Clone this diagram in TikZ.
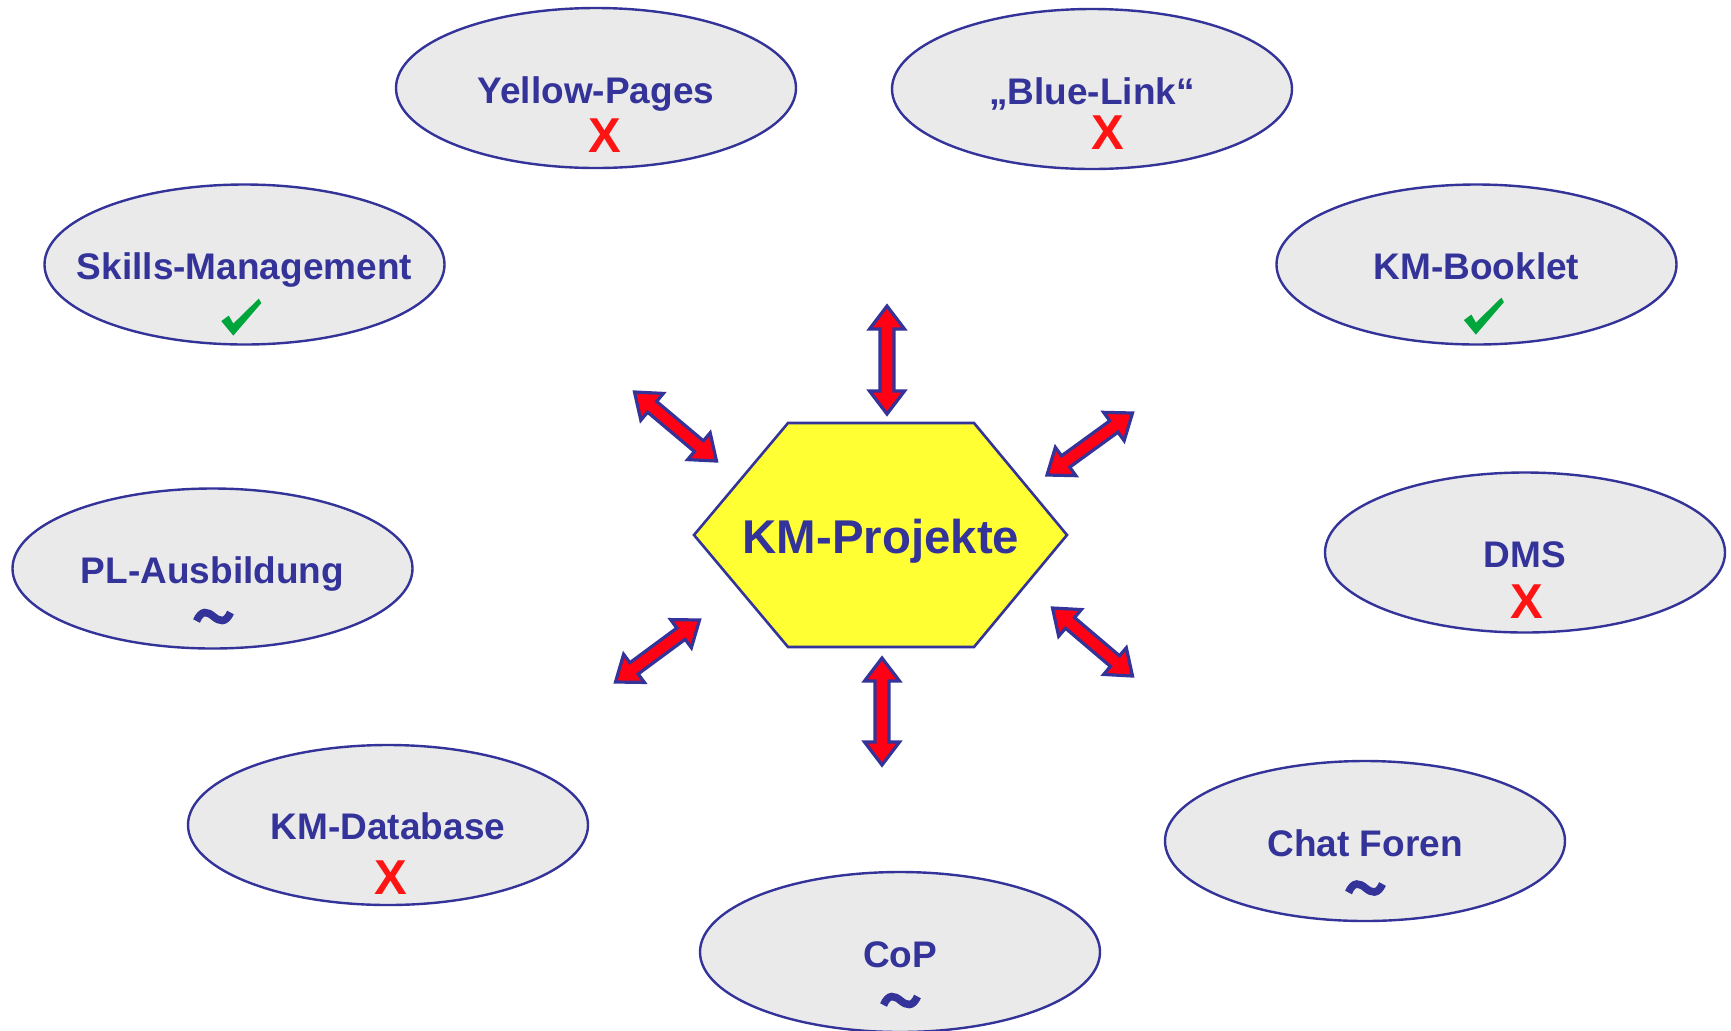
\documentclass[tikz,border=0pt]{standalone}
\usepackage{fontspec}
\setmainfont{Liberation Sans}
\usetikzlibrary{calc,shapes.geometric}
\definecolor{kmblue}{RGB}{51,51,153}
\definecolor{ellfill}{RGB}{234,234,234}
\definecolor{hexyellow}{RGB}{255,255,51}
\definecolor{arrred}{RGB}{255,0,20}
\definecolor{xred}{RGB}{255,20,20}
\definecolor{chkgreen}{RGB}{0,166,60}
\tikzset{
  topic/.style={ellipse, draw=kmblue, line width=1.2pt, fill=ellfill, minimum width=200pt, minimum height=80pt, inner sep=0pt},
  title/.style={font=\fontsize{18.5}{22}\selectfont\bfseries, text=kmblue, inner sep=0pt, anchor=base},
  xmark/.style={font=\fontsize{24.5}{28}\selectfont\bfseries, text=xred, inner sep=0pt},
  arr/.style={draw=kmblue, fill=arrred, line width=1.6pt, line join=miter},
  tildeline/.style={draw=kmblue, line width=3.8pt},
}
\newcommand\dblarr[3]{%
  \path ($(#2)!11.5pt!(#3)$) coordinate (#1p) ($(#3)!11.5pt!(#2)$) coordinate (#1q);
  \draw[arr] (#2) -- ($(#1p)!8.75pt!90:(#3)$) -- ($(#1p)!3.5pt!90:(#3)$) -- ($(#1q)!3.5pt!-90:(#2)$) -- ($(#1q)!8.75pt!-90:(#2)$) -- (#3) -- ($(#1q)!8.75pt!90:(#2)$) -- ($(#1q)!3.5pt!90:(#2)$) -- ($(#1p)!3.5pt!-90:(#3)$) -- ($(#1p)!8.75pt!-90:(#3)$) -- cycle;}
\newcommand\chkmark[1]{%
  \fill[chkgreen, shift={(#1)}] (-11,-13) -- (-3.5,-18.5) -- (1,-10.5) -- (26.5,-35.5) -- (29,-31) -- (1,1.5) -- cycle;}
\newcommand\tildemark[1]{%
  \draw[tildeline, shift={(#1)}] (-17,4.5) .. controls (-12,-7) and (-6,-5) .. (0,0) .. controls (6,5) and (12,7) .. (17,-4);}
\begin{document}
\begin{tikzpicture}[x=0.5pt,y=-0.5pt]
\useasboundingbox (0,0) rectangle (1731,1030);
% topics
\node[topic] (yp) at (596,88) {};
\node[topic] (bl) at (1092,89) {};
\node[topic] (sm) at (244.5,264.5) {};
\node[topic] (kb) at (1476.5,264.5) {};
\node[topic] (pl) at (212.5,568.5) {};
\node[topic] (dms) at (1525,552.5) {};
\node[topic] (kd) at (388,825) {};
\node[topic] (cf) at (1365,841) {};
\node[topic] (cop) at (900,952) {};
% titles
\node[title] (ypT) at ($(yp.center)+(0,15)$) {Yellow-Pages};
\node[title] (blT) at ($(bl.center)+(0,15)$) {„Blue-Link“};
\node[title] (smT) at ($(sm.center)+(0,15)$) {Skills-Management};
\node[title] (kbT) at ($(kb.center)+(0,15)$) {KM-Booklet};
\node[title] (plT) at ($(pl.center)+(0,15)$) {PL-Ausbildung};
\node[title] (dmsT) at ($(dms.center)+(0,14.5)$) {DMS};
\node[title] (kdT) at ($(kd.center)+(0,14.5)$) {KM-Database};
\node[title] (cfT) at ($(cf.center)+(0,15)$) {Chat Foren};
\node[title] (copT) at ($(cop.center)+(0,15)$) {CoP};
% status marks
\node[xmark] (ypX) at ($(yp.center)+(9,48)$) {X};
\node[xmark] (blX) at ($(bl.center)+(15.5,44)$) {X};
\node[xmark] (dmsX) at ($(dms.center)+(2,49)$) {X};
\node[xmark] (kdX) at ($(kd.center)+(2.5,53)$) {X};
\coordinate (smC) at ($(sm.center)+(-12.2,69.6)$);
\coordinate (kbC) at ($(kb.center)+(-1.6,68.6)$);
\chkmark{smC}
\chkmark{kbC}
\coordinate (plTl) at ($(pl.center)+(1,48)$);
\coordinate (cfTl) at ($(cf.center)+(0.5,47)$);
\coordinate (copTl) at ($(cop.center)+(0.5,48.5)$);
\tildemark{plTl}
\tildemark{cfTl}
\tildemark{copTl}
% hexagon
\draw[draw=kmblue, fill=hexyellow, line width=1.3pt] (694,535) -- (788,423) -- (974,423) -- (1067,535) -- (974,647) -- (788,647) -- cycle;
\node[font=\fontsize{23.7}{28}\selectfont\bfseries, text=kmblue, inner sep=0pt, anchor=base] (hex) at (881,553) {KM-Projekte};
% arrows
\coordinate (a1s) at (887,306); \coordinate (a1e) at (887,414);
\coordinate (a2s) at (882,658); \coordinate (a2e) at (882,765);
\coordinate (a3s) at (634.5,392); \coordinate (a3e) at (716.5,461);
\coordinate (a4s) at (1132.5,413); \coordinate (a4e) at (1047,475);
\coordinate (a5s) at (699.5,620); \coordinate (a5e) at (615.5,682);
\coordinate (a6s) at (1052.5,608); \coordinate (a6e) at (1132.5,676);
\dblarr{a1}{a1s}{a1e}
\dblarr{a2}{a2s}{a2e}
\dblarr{a3}{a3s}{a3e}
\dblarr{a4}{a4s}{a4e}
\dblarr{a5}{a5s}{a5e}
\dblarr{a6}{a6s}{a6e}
\end{tikzpicture}
\end{document}
